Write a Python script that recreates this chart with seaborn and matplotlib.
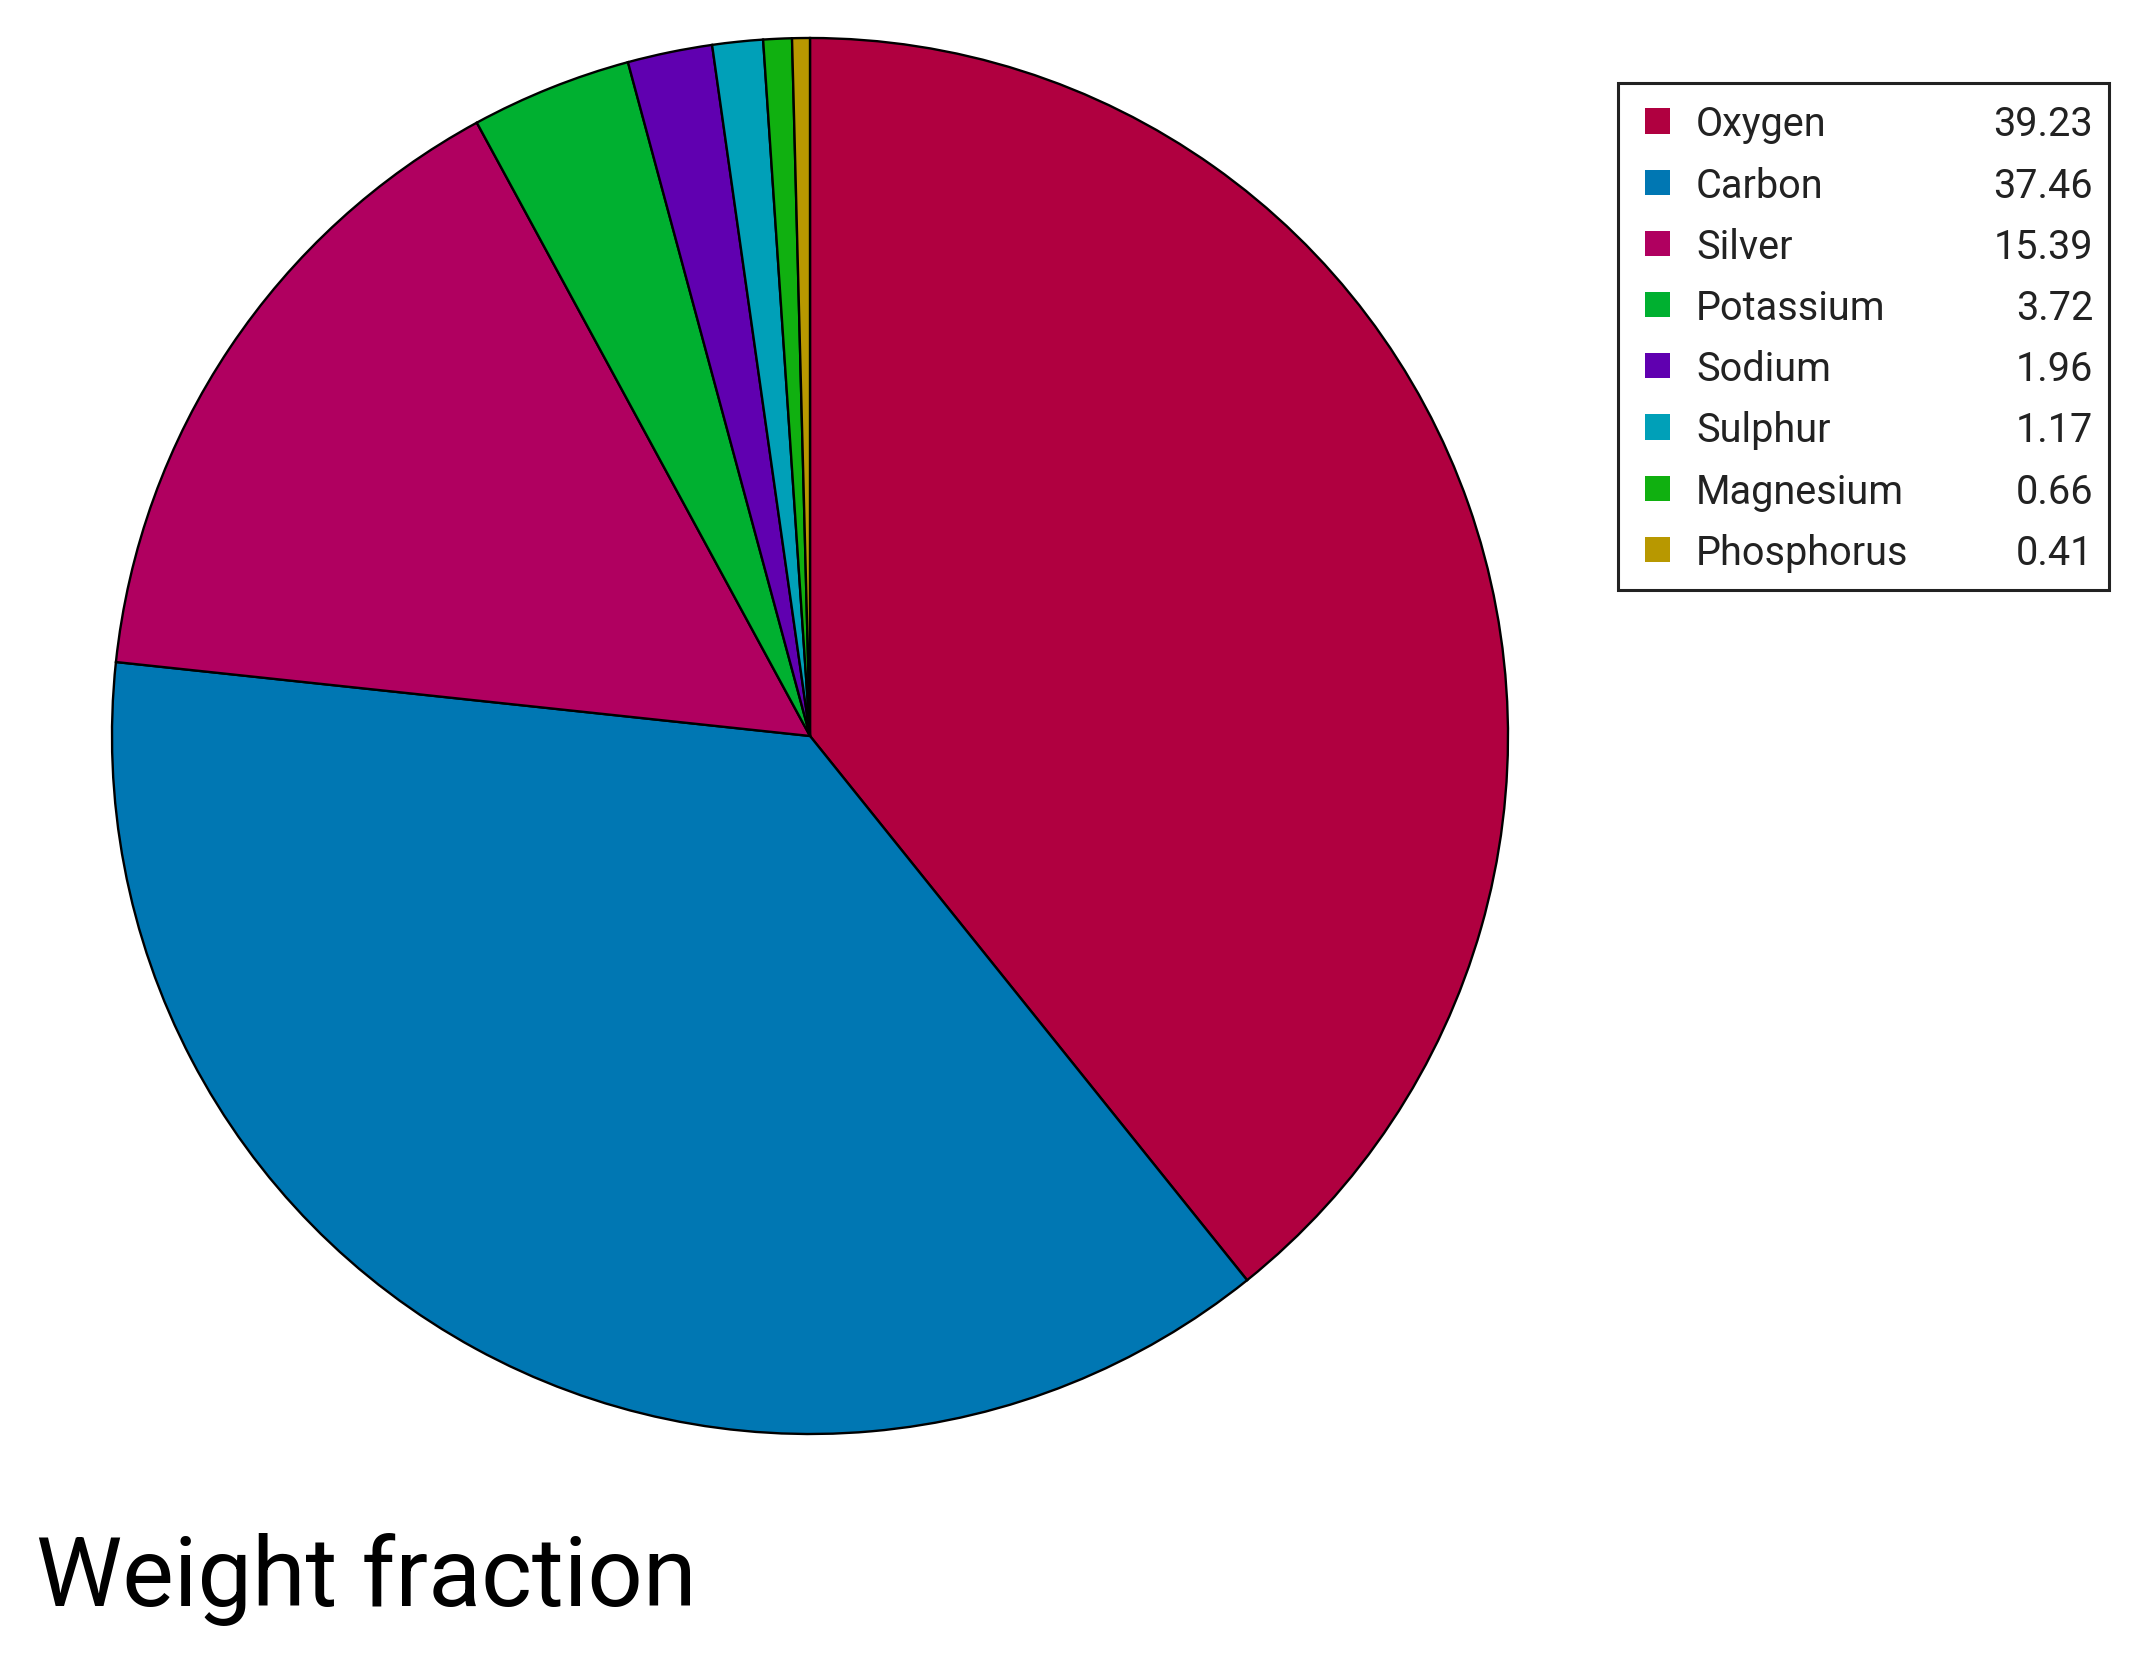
import matplotlib
matplotlib.use("Agg")
import matplotlib.pyplot as plt
import seaborn as sns
from matplotlib.patches import Rectangle

sns.set_theme(style="white")
plt.rcParams['font.family'] = ['Roboto', 'DejaVu Sans']

elements = ["Oxygen", "Carbon", "Silver", "Potassium", "Sodium", "Sulphur", "Magnesium", "Phosphorus"]
fractions = [39.23, 37.46, 15.39, 3.72, 1.96, 1.17, 0.66, 0.41]
value_labels = ["39.23", "37.46", "15.39", "3.72", "1.96", "1.17", "0.66", "0.41"]
colors = ["#b00040", "#0077b3", "#b00060", "#00b030", "#6000b0", "#00a0b8", "#10b010", "#b89800"]
title = "Weight fraction"

W, H = 2134, 1654
fig = plt.figure(figsize=(W / 100, H / 100), dpi=100)

cx, cy, r = 810, 736, 698
ax = fig.add_axes([(cx - r) / W, (H - cy - r) / H, 2 * r / W, 2 * r / H])
wedges, _ = ax.pie(fractions, colors=colors, startangle=90, counterclock=False, radius=1,
                   wedgeprops=dict(edgecolor="black", linewidth=1.7))
for w in wedges:
    w.set_clip_on(False)
ax.set_xlim(-1, 1)
ax.set_ylim(-1, 1)
ax.set_aspect("equal")
ax.axis("off")

# legend box
bx0, by0, bx1, by1 = 1618, 83, 2109, 590
fig.patches.append(Rectangle((bx0 / W, 1 - by1 / H), (bx1 - bx0) / W, (by1 - by0) / H,
                             transform=fig.transFigure, fill=False, edgecolor="#222222",
                             linewidth=2.2))
row0, dy = 121, 61.2
for i, (name, val, col) in enumerate(zip(elements, value_labels, colors)):
    yc = row0 + i * dy
    fig.patches.append(Rectangle((1645 / W, 1 - (yc + 12.5) / H), 25 / W, 25 / H,
                                 transform=fig.transFigure, facecolor=col, edgecolor="none"))
    fig.text(1696 / W, 1 - yc / H, name, fontsize=28.5, color="#222222",
             ha="left", va="center_baseline")
    fig.text(2093 / W, 1 - yc / H, val, fontsize=28.5, color="#222222",
             ha="right", va="center_baseline")

fig.text(36 / W, 1 - 1606 / H, title, fontsize=70, color="black", ha="left", va="baseline")

fig.savefig("out.png", dpi=100, facecolor="white")
